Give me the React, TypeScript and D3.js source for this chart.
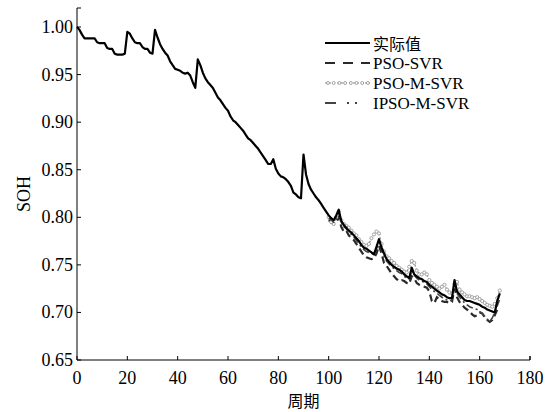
import React from "react";
import * as d3 from "d3";

const actual: number[] = [
  1.000, 0.997, 0.992, 0.988, 0.988, 0.988, 0.988, 0.988, 0.984, 0.983,
  0.983, 0.983, 0.978, 0.977, 0.977, 0.972, 0.971, 0.971, 0.971, 0.972,
  0.995, 0.993, 0.988, 0.984, 0.983, 0.983, 0.979, 0.977, 0.977, 0.973,
  0.972, 0.997, 0.989, 0.982, 0.977, 0.973, 0.970, 0.964, 0.960, 0.956,
  0.955, 0.954, 0.952, 0.951, 0.952, 0.949, 0.942, 0.936, 0.966, 0.960,
  0.952, 0.946, 0.942, 0.939, 0.936, 0.931, 0.926, 0.923, 0.919, 0.915,
  0.912, 0.906, 0.902, 0.900, 0.897, 0.894, 0.891, 0.887, 0.883, 0.881,
  0.878, 0.875, 0.872, 0.868, 0.864, 0.860, 0.856, 0.856, 0.861, 0.851,
  0.846, 0.843, 0.842, 0.840, 0.837, 0.833, 0.826, 0.824, 0.821, 0.820,
  0.866, 0.845, 0.835, 0.829, 0.825, 0.821, 0.818, 0.814, 0.810, 0.806,
  0.802, 0.799, 0.797, 0.802, 0.808, 0.796, 0.792, 0.789, 0.786, 0.784,
  0.781, 0.778, 0.775, 0.771, 0.768, 0.767, 0.765, 0.763, 0.761, 0.769,
  0.777, 0.768, 0.762, 0.756, 0.753, 0.750, 0.748, 0.746, 0.745, 0.743,
  0.740, 0.738, 0.736, 0.747, 0.740, 0.738, 0.736, 0.735, 0.733, 0.732,
  0.729, 0.727, 0.725, 0.723, 0.721, 0.719, 0.718, 0.716, 0.715, 0.715,
  0.734, 0.722, 0.719, 0.716, 0.713, 0.712, 0.712, 0.711, 0.710, 0.709,
  0.708, 0.706, 0.705, 0.703, 0.702, 0.701, 0.700, 0.712, 0.720,
];

const predStart = 100;

const psoSvr: number[] = [
  0.797, 0.795, 0.793, 0.796, 0.800, 0.790, 0.785, 0.786, 0.781, 0.778,
  0.776, 0.772, 0.768, 0.764, 0.760, 0.758, 0.757, 0.756, 0.757, 0.762,
  0.770, 0.762, 0.752, 0.749, 0.745, 0.741, 0.738, 0.735, 0.733, 0.734,
  0.733, 0.731, 0.730, 0.738, 0.736, 0.731, 0.729, 0.728, 0.727, 0.726,
  0.722, 0.712, 0.710, 0.716, 0.714, 0.712, 0.711, 0.711, 0.710, 0.711,
  0.725, 0.716, 0.711, 0.708, 0.705, 0.703, 0.701, 0.698, 0.696, 0.697,
  0.700, 0.699, 0.695, 0.692, 0.690, 0.692, 0.697, 0.703, 0.705,
];

const psoMSvr: number[] = [
  0.800, 0.795, 0.793, 0.800, 0.806, 0.797, 0.793, 0.791, 0.789, 0.786,
  0.783, 0.781, 0.777, 0.774, 0.771, 0.770, 0.772, 0.778, 0.782, 0.785,
  0.783, 0.772, 0.764, 0.759, 0.757, 0.754, 0.752, 0.749, 0.747, 0.745,
  0.743, 0.742, 0.748, 0.754, 0.752, 0.744, 0.740, 0.740, 0.742, 0.740,
  0.734, 0.731, 0.729, 0.727, 0.725, 0.727, 0.729, 0.724, 0.721, 0.720,
  0.730, 0.732, 0.724, 0.721, 0.719, 0.717, 0.717, 0.716, 0.715, 0.716,
  0.714, 0.712, 0.710, 0.708, 0.707, 0.706, 0.709, 0.715, 0.723,
];

const ipsoMSvr: number[] = [
  0.799, 0.797, 0.795, 0.799, 0.804, 0.795, 0.790, 0.788, 0.784, 0.782,
  0.779, 0.776, 0.772, 0.769, 0.766, 0.764, 0.763, 0.762, 0.761, 0.767,
  0.774, 0.766, 0.759, 0.754, 0.751, 0.748, 0.746, 0.744, 0.742, 0.741,
  0.738, 0.736, 0.735, 0.744, 0.739, 0.736, 0.734, 0.733, 0.731, 0.730,
  0.727, 0.724, 0.722, 0.720, 0.718, 0.716, 0.715, 0.713, 0.712, 0.713,
  0.731, 0.720, 0.716, 0.713, 0.710, 0.708, 0.706, 0.705, 0.704, 0.703,
  0.701, 0.699, 0.696, 0.693, 0.691, 0.694, 0.700, 0.707, 0.714,
];

const xTicks = [0, 20, 40, 60, 80, 100, 120, 140, 160, 180];
const yTicks = [0.65, 0.7, 0.75, 0.8, 0.85, 0.9, 0.95, 1.0];
const legendLabels = ["实际值", "PSO-SVR", "PSO-M-SVR", "IPSO-M-SVR"];
const xLabel = "周期";
const yLabel = "SOH";

const W = 548;
const H = 412;
const serif = "'Liberation Serif', 'Times New Roman', serif";
const cjk = "'Noto Sans CJK SC', sans-serif";

export default function App() {
  const x = d3.scaleLinear().domain([0, 180]).range([77, 530]);
  const y = d3.scaleLinear().domain([0.65, 1.02]).range([360, 8]);
  const line = d3
    .line<[number, number]>()
    .x((d) => x(d[0]))
    .y((d) => y(d[1]));

  const actualPts: [number, number][] = actual.map((v, i) => [i, v]);
  const toPts = (arr: number[]): [number, number][] =>
    arr.map((v, i) => [predStart + i, v]);
  const psoPts = toPts(psoSvr);
  const psoMPts = toPts(psoMSvr);
  const ipsoPts = toPts(ipsoMSvr);

  const x0 = x(0);
  const y0 = y(0.65);
  const yTop = y(1.02);
  const xEnd = x(180);

  const legX1 = 325;
  const legX2 = 370;
  const legY = [43, 63, 83, 103];

  return (
    <svg
      width={W}
      height={H}
      style={{ position: "absolute", left: 0, top: 0, background: "#fff" }}
    >
      <rect width={W} height={H} fill="#fff" />
      {/* axes */}
      <g stroke="#000" strokeWidth={1} fill="none">
        <line x1={x0} y1={yTop} x2={x0} y2={y0} />
        <line x1={x0} y1={y0} x2={xEnd} y2={y0} />
        <line x1={x0} y1={yTop} x2={x0 + 4} y2={yTop} />
        <line x1={xEnd} y1={y0} x2={xEnd} y2={y0 - 4} />
        {yTicks.map((t) => (
          <line key={"yt" + t} x1={x0} x2={x0 + 4} y1={y(t)} y2={y(t)} />
        ))}
        {xTicks.map((t) => (
          <line key={"xt" + t} x1={x(t)} x2={x(t)} y1={y0} y2={y0 - 4} />
        ))}
      </g>
      <g fontFamily={serif} fontSize={18} fill="#000">
        {yTicks.map((t) => (
          <text
            key={"yl" + t}
            x={x0 - 4}
            y={y(t)}
            textAnchor="end"
            dominantBaseline="central"
          >
            {d3.format(".2f")(t)}
          </text>
        ))}
        {xTicks.map((t) => (
          <text key={"xl" + t} x={x(t)} y={384} textAnchor="middle">
            {t}
          </text>
        ))}
        <text
          transform={`translate(24, ${194}) rotate(-90)`}
          textAnchor="middle"
          dominantBaseline="central"
        >
          {yLabel}
        </text>
      </g>
      <text
        x={(x0 + xEnd) / 2}
        y={400}
        textAnchor="middle"
        dominantBaseline="central"
        fontFamily={cjk}
        fontSize={16}
      >
        {xLabel}
      </text>

      {/* series */}
      <path d={line(psoPts) || ""} fill="none" stroke="#2a2a2a" strokeWidth={2.2} strokeDasharray="7,4" />
      <path d={line(psoMPts) || ""} fill="none" stroke="#888" strokeWidth={1.2} strokeDasharray="2,2" />
      {psoMPts.map((p, i) => (
        <circle key={"pm" + i} cx={x(p[0])} cy={y(p[1])} r={1.6} fill="#fff" stroke="#999" strokeWidth={0.9} />
      ))}
      <path d={line(ipsoPts) || ""} fill="none" stroke="#444" strokeWidth={1.6} strokeDasharray="7,3,2,3" />
      <path d={line(actualPts) || ""} fill="none" stroke="#000" strokeWidth={2.2} strokeLinejoin="round" />

      {/* legend */}
      <g>
        <line x1={legX1} x2={legX2} y1={legY[0]} y2={legY[0]} stroke="#000" strokeWidth={2.2} />
        <line x1={legX1} x2={legX2} y1={legY[1]} y2={legY[1]} stroke="#2a2a2a" strokeWidth={2.2} strokeDasharray="10,8" />
        <line x1={legX1} x2={legX2} y1={legY[2]} y2={legY[2]} stroke="#888" strokeWidth={1.2} strokeDasharray="2,2" />
        {[0, 1, 2, 3, 4, 5, 6, 7].map((k) => (
          <circle key={"lc" + k} cx={legX1 + 3 + k * 5.7} cy={legY[2]} r={1.5} fill="#fff" stroke="#999" strokeWidth={0.9} />
        ))}
        <line x1={legX1} x2={legX2} y1={legY[3]} y2={legY[3]} stroke="#444" strokeWidth={1.8} strokeDasharray="11,11,2,6,2,20" />
        <text x={373} y={legY[0]} dominantBaseline="central" fontFamily={cjk} fontSize={16}>
          {legendLabels[0]}
        </text>
        {legendLabels.slice(1).map((l, i) => (
          <text key={l} x={373} y={legY[i + 1]} dominantBaseline="central" fontFamily={serif} fontSize={17}>
            {l}
          </text>
        ))}
      </g>
    </svg>
  );
}
